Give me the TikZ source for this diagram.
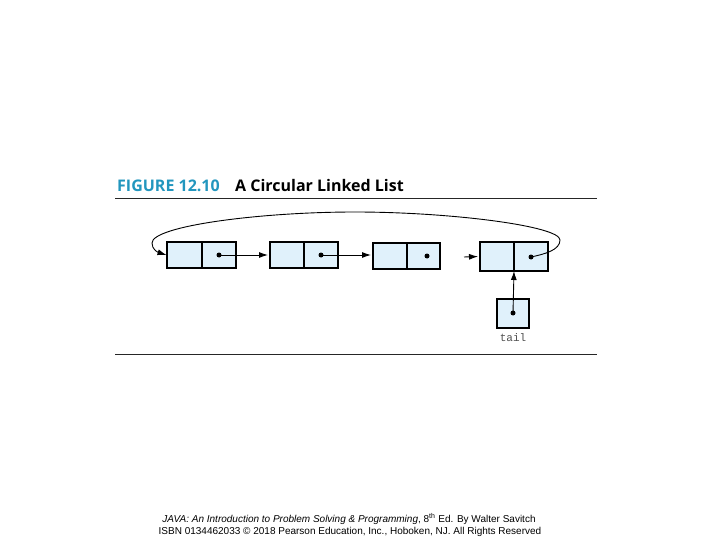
\documentclass[tikz,border=0pt]{standalone}
\usepackage{fontspec}
\setmainfont{Liberation Sans}
\newfontfamily\titlefont{Open Sans}
\newfontfamily\monofont{Liberation Mono}
\usetikzlibrary{arrows.meta}
\definecolor{cellfill}{RGB}{224,241,251}
\definecolor{titleteal}{RGB}{34,150,190}
\definecolor{tailgray}{RGB}{80,80,80}
\tikzset{
  cellbox/.style={draw=black, fill=cellfill, line width=1.9pt, minimum height=26pt, minimum width=34pt, inner sep=0pt, outer sep=0pt},
  thincell/.style={cellbox, line width=1.1pt},
  ptrdot/.style={circle, fill=black, inner sep=0pt, minimum size=5pt},
  ptr/.style={line width=0.9pt, -{Latex[length=9pt,width=6pt]}},
  rule/.style={line width=0.9pt, draw=black!85},
}
\begin{document}
\begin{tikzpicture}[x=1pt,y=-1pt]
\useasboundingbox (0,0) rectangle (720,540);
% title
\node[anchor=base west, inner sep=0pt, font=\titlefont\bfseries\fontsize{16}{18}\selectfont, text=titleteal] (fig) at (117,192) {FIGURE 12.10};
\node[anchor=base west, inner sep=0pt, font=\titlefont\bfseries\fontsize{16}{18}\selectfont] (ttl) at (235,192) {A Circular Linked List};
\draw[rule] (115,198) coordinate (r1a) -- (597,198) coordinate (r1b);
\draw[rule] (115,354) coordinate (r2a) -- (597,354) coordinate (r2b);
% node 1
\node[cellbox, anchor=north west, minimum width=35pt] (a1) at (167,242) {};
\node[cellbox, anchor=north west, minimum width=34pt] (b1) at (202,242) {};
% node 2
\node[cellbox, anchor=north west, minimum width=34pt] (a2) at (270,242) {};
\node[cellbox, anchor=north west, minimum width=34pt] (b2) at (304,242) {};
% node 3
\node[thincell, anchor=north west, minimum width=34pt] (a3) at (373,243) {};
\node[thincell, anchor=north west, minimum width=33pt] (b3) at (407,243) {};
% node 4
\node[cellbox, anchor=north west, minimum width=34pt, minimum height=29pt] (a4) at (480,242) {};
\node[cellbox, anchor=north west, minimum width=34pt, minimum height=29pt] (b4) at (514,242) {};
% tail
\node[cellbox, anchor=north west, minimum width=32pt, minimum height=29pt] (t) at (497,299) {};
\node[anchor=base, inner sep=0pt, font=\monofont\fontsize{11}{13}\selectfont, text=tailgray] (tl) at (513,341) {tail};
% dots
\node[ptrdot] (d1) at (219,255) {};
\node[ptrdot] (d2) at (321,255) {};
\node[ptrdot] (d3) at (427,256) {};
\node[ptrdot] (d4) at (531,257) {};
\node[ptrdot] (dt) at (513,313) {};
% pointers
\draw[ptr] (d1.center) -- ([xshift=-2pt]d1.center -| a2.west);
\draw[ptr] (d2.center) -- ([xshift=-2pt]d2.center -| a3.west);
\coordinate (gap) at (464,257);
\draw[ptr] (gap) -- ([xshift=-2pt]a4.west);
\draw[ptr] (dt.center) -- (b4.south west);
% circular link
\coordinate (cr) at (560,240);
\coordinate (ct) at (355,212);
\coordinate (cl) at (152,243);
\draw[ptr] (d4.center) .. controls (545,254) and (560,250) .. (cr)
  .. controls (560,226) and (450,212) .. (ct)
  .. controls (260,212) and (152,226) .. (cl)
  .. controls (152,249) and (157,252) .. ([xshift=-0.5pt]a1.west);
% footer
\node[anchor=base, inner sep=0pt, font=\fontsize{10}{12}\selectfont] (f1) at (349,522) {\textit{JAVA: An Introduction to Problem Solving \& Programming}, 8\textsuperscript{th} Ed. By Walter Savitch};
\node[anchor=base, inner sep=0pt, font=\fontsize{10}{12}\selectfont] (f2) at (350,534) {ISBN 0134462033 \textcopyright{} 2018 Pearson Education, Inc., Hoboken, NJ. All Rights Reserved};
\end{tikzpicture}
\end{document}
